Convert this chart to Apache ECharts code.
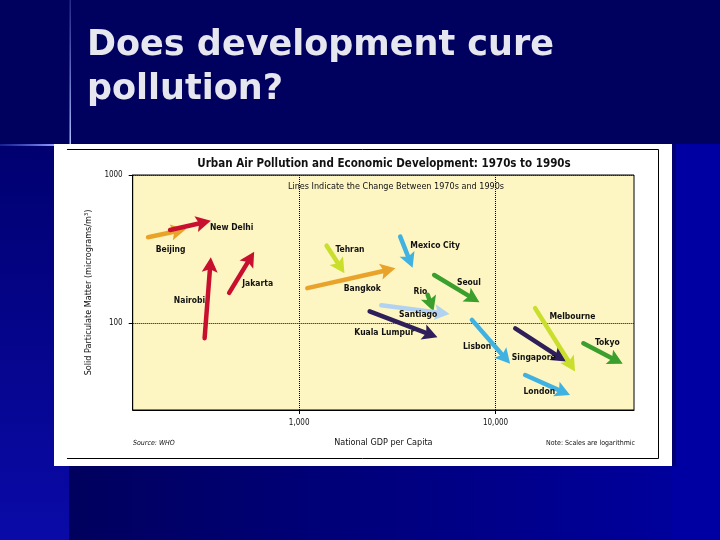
<!DOCTYPE html>
<html><head><meta charset="utf-8">
<script src="https://cdn.jsdelivr.net/npm/echarts@6/dist/echarts.min.js"></script>
<style>html,body{margin:0;padding:0;background:#00005f;}#c{width:720px;height:540px;}</style>
</head><body><div id="c"></div>
<script>
// ---- data ----
const cities   = ['Beijing','New Delhi','Nairobi','Jakarta','Tehran','Bangkok','Mexico City','Seoul','Rio','Santiago','Kuala Lumpur','Lisbon','Singapore','Melbourne','Tokyo','London'];
const gdp1970s = [170, 220, 330, 440, 1380, 1100, 3270, 4870, 4510, 2620, 2285, 7580, 12600, 15900, 28000, 14150];
const gdp1990s = [265, 355, 355, 590, 1700, 3090, 3780, 8280, 4830, 5830, 5060, 11860, 22850, 25400, 44400, 23940];
const pm1970s  = [380, 425, 79, 160, 333, 172, 383, 211, 155, 132, 120, 105, 92, 126, 73, 44.5];
const pm1990s  = [430, 490, 278, 303, 217, 234, 236, 138, 120, 115, 80, 53, 55, 47, 53, 32.6];
const labelGdp = [186, 351, 230, 513, 1529, 1686, 3680, 6357, 3825, 3225, 1910, 6822, 12100, 18800, 32100, 13870];
const labelPm  = [311, 438, 141, 183, 311, 170, 333, 188, 163, 113, 86.5, 69, 58.6, 110, 73.6, 34.3];
const colorGroup = ['orange','red','red','red','lime','orange','sky','green','green','pale','purple','sky','purple','lime','green','sky'];
const xTickValues = [1000, 10000];
const xTickLabels = ['1,000', '10,000'];
const yTickValues = [100, 1000];
const yTickLabels = ['100', '1000'];

// ---- styles ----
const palette = {orange:'#e9a32a', red:'#c8102e', lime:'#c9df2c', sky:'#3fb2e2', green:'#3a9f2c', pale:'#b2d2f2', purple:'#2e1f5a'};
const NARROW = "'Liberation Sans Narrow','DejaVu Sans Condensed','DejaVu Sans',sans-serif";
const BOLDT = "'DejaVu Sans',Verdana,sans-serif";

const data = cities.map((c,i)=>[gdp1970s[i], pm1970s[i], gdp1990s[i], pm1990s[i], labelGdp[i], labelPm[i]]);

const chart = echarts.init(document.getElementById('c'), null, {renderer:'canvas'});
chart.setOption({
  backgroundColor:'#00005f',
  animation:false,
  graphic:[
    {type:'rect', z:-10, shape:{x:0,y:144,width:69,height:396}, style:{fill:new echarts.graphic.LinearGradient(0,0,0,1,[{offset:0,color:'#000070'},{offset:1,color:'#0a0aa8'}])}},
    {type:'rect', z:-10, shape:{x:672,y:144,width:48,height:396}, style:{fill:'#0000a2'}},
    {type:'rect', z:-10, shape:{x:672,y:144,width:4,height:322}, style:{fill:'#000070'}},
    {type:'rect', z:-10, shape:{x:69,y:466,width:603,height:74}, style:{fill:new echarts.graphic.LinearGradient(0,0,1,0,[{offset:0,color:'#00005e'},{offset:1,color:'#00009c'}])}},
    {type:'rect', z:-10, shape:{x:69.5,y:0,width:1.5,height:144}, style:{fill:new echarts.graphic.LinearGradient(0,0,0,1,[{offset:0,color:'rgba(120,140,230,0.3)'},{offset:1,color:'#b0c0ff'}])}},
    {type:'rect', z:-10, shape:{x:0,y:144,width:54,height:2}, style:{fill:new echarts.graphic.LinearGradient(0,0,1,0,[{offset:0,color:'rgba(80,100,220,0.3)'},{offset:1,color:'#8fa0ff'}])}},
    {type:'rect', z:-9, shape:{x:54,y:144,width:618,height:322}, style:{fill:'#ffffff'}},
    {type:'line', z:-8, shape:{x1:67,y1:149.5,x2:658.5,y2:149.5}, style:{stroke:'#000',lineWidth:1}},
    {type:'line', z:-8, shape:{x1:658.5,y1:149.5,x2:658.5,y2:458.5}, style:{stroke:'#000',lineWidth:1}},
    {type:'line', z:-8, shape:{x1:67,y1:458.5,x2:658.5,y2:458.5}, style:{stroke:'#000',lineWidth:1}},
    {type:'text', x:87, y:46, style:{text:'Does development cure', fill:'#e6e6ef', font:'bold 35px '+BOLDT, verticalAlign:'middle'}},
    {type:'text', x:87, y:90, style:{text:'pollution?', fill:'#e6e6ef', font:'bold 35px '+BOLDT, verticalAlign:'middle'}},
    {type:'text', x:384, y:164, style:{text:'Urban Air Pollution and Economic Development: 1970s to 1990s', fill:'#111', font:'bold 11.5px '+NARROW, align:'center', verticalAlign:'middle'}},
    {type:'text', x:396, y:187, style:{text:'Lines Indicate the Change Between 1970s and 1990s', fill:'#111', font:'9px '+NARROW, align:'center', verticalAlign:'middle'}},
    {type:'text', x:133, y:443, style:{text:'Source: WHO', fill:'#111', font:'italic 7px '+NARROW, align:'left', verticalAlign:'middle'}},
    {type:'text', x:635, y:443, style:{text:'Note: Scales are logarithmic', fill:'#111', font:'7px '+NARROW, align:'right', verticalAlign:'middle'}}
  ],
  grid:{left:132.7, top:175, right:86, bottom:130, show:true, backgroundColor:'#fdf5c2', borderColor:'#000', borderWidth:1},
  xAxis:{
    type:'log', logBase:10, min:142, max:50700,
    name:'National GDP per Capita', nameLocation:'middle', nameGap:28,
    nameTextStyle:{fontSize:9, fontFamily:NARROW, color:'#111'},
    axisLine:{show:true, lineStyle:{color:'#000', width:1}},
    axisTick:{show:true, length:4, customValues:xTickValues, lineStyle:{color:'#000'}},
    axisLabel:{customValues:xTickValues, margin:9, fontSize:8, fontFamily:NARROW, color:'#111',
      formatter:v=>{const k=xTickValues.indexOf(Math.round(v)); return k>=0?xTickLabels[k]:'';}},
    splitLine:{show:true, lineStyle:{type:'dotted', color:'#000', width:1}},
    minorTick:{show:false}
  },
  yAxis:{
    type:'log', logBase:10, min:25.84, max:1000,
    name:'Solid Particulate Matter (micrograms/m\u00b3)', nameLocation:'middle', nameGap:39, nameRotate:90,
    nameTextStyle:{fontSize:9, fontFamily:NARROW, color:'#111'},
    axisLine:{show:true, lineStyle:{color:'#000', width:1}},
    axisTick:{show:true, length:4, customValues:yTickValues, lineStyle:{color:'#000'}},
    axisLabel:{customValues:yTickValues, margin:10, fontSize:8, fontFamily:NARROW, color:'#111',
      formatter:v=>{const k=yTickValues.indexOf(Math.round(v)); return k>=0?yTickLabels[k]:'';}},
    splitLine:{show:true, lineStyle:{type:'dotted', color:'#000', width:1}}
  },
  series:[{
    type:'custom',
    coordinateSystem:'cartesian2d',
    encode:{x:[0,2,4], y:[1,3,5]},
    data:data,
    renderItem:function(params, api){
      const i = params.dataIndex;
      const color = palette[colorGroup[i]];
      const a = api.coord([api.value(0), api.value(1)]);
      const b = api.coord([api.value(2), api.value(3)]);
      const l = api.coord([api.value(4), api.value(5)]);
      const dx=b[0]-a[0], dy=b[1]-a[1], L=Math.hypot(dx,dy)||1;
      const ux=dx/L, uy=dy/L, nx=-uy, ny=ux;
      const HL=15, HW=8, N=3;
      const base=[b[0]-ux*HL, b[1]-uy*HL];
      const notch=[b[0]-ux*(HL-N), b[1]-uy*(HL-N)];
      return {type:'group', children:[
        {type:'line', shape:{x1:a[0],y1:a[1],x2:notch[0]+ux*1,y2:notch[1]+uy*1}, style:{stroke:color, lineWidth:4.5, lineCap:'round'}},
        {type:'polygon', shape:{points:[b,[base[0]+nx*HW,base[1]+ny*HW],notch,[base[0]-nx*HW,base[1]-ny*HW]]}, style:{fill:color}},
        {type:'text', z2:10, x:l[0], y:l[1], style:{text:cities[i], fill:'#111', font:'bold 8.5px '+NARROW, align:'left', verticalAlign:'middle'}}
      ]};
    }
  }]
});
</script></body></html>
